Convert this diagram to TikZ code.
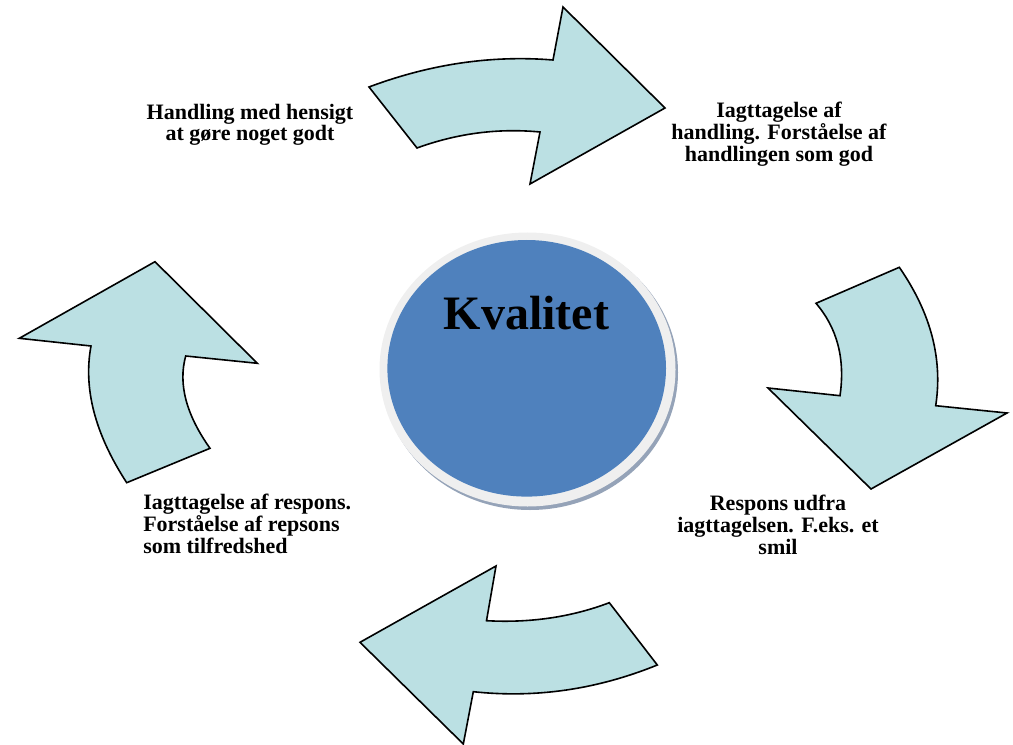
\documentclass[tikz,border=0pt]{standalone}
\usepackage{fontspec}
\setmainfont{Liberation Serif}
\begin{document}
\begin{tikzpicture}[x=0.75pt,y=-0.75pt,
  arrowshape/.style={draw=black, line width=1.2pt, line join=miter, fill=arrowfill},
  lbl/.style={font=\fontsize{16.5}{16.5}\selectfont\bfseries, inner sep=0pt, align=center, anchor=north},
  lblleft/.style={lbl, align=left, anchor=north west}]
\definecolor{arrowfill}{HTML}{BBE0E3}
\definecolor{blueball}{HTML}{4F81BD}
\definecolor{ringc}{HTML}{EFEFEF}
\definecolor{shadowc}{HTML}{95A3B8}
\useasboundingbox (0,0) rectangle (1013,745);

% top arrow
\filldraw[arrowshape] (369,87) .. controls (430.3,64) and (491.7,55) .. (553,60) -- (563,7) -- (665,108) -- (530,184) -- (540,132)
  .. controls (498.3,128) and (457.3,133.3) .. (417,148) -- cycle;
% right arrow
\filldraw[arrowshape] (899.3,267.3) .. controls (930.8,312.8) and (942.9,358.9) .. (935.7,405.7) -- (1007,413) -- (871,489) -- (768,388) -- (840,395.7)
  .. controls (845.3,358.9) and (837.3,328.1) .. (816,303.3) -- cycle;
% bottom arrow
\filldraw[arrowshape] (609.3,602.7) -- (657.3,665) .. controls (596.9,689.5) and (535.6,698.4) .. (473.3,691.7) -- (463.3,744) -- (360,642.3) -- (496,566) -- (486.5,620.7)
  .. controls (530.4,623.1) and (571.3,617.1) .. cycle;
% left arrow
\filldraw[arrowshape] (126.7,482.7) -- (210,448.3) .. controls (186.1,414.6) and (178,383.9) .. (185.7,356) -- (257.3,363.3) -- (155,261.7) -- (19.3,338.3) -- (91,346)
  .. controls (83.1,388.4) and (95,434) .. cycle;

% centre ball
\fill[shadowc] (530,372.5) ellipse [x radius=148, y radius=137.5];
\fill[ringc] (527.5,369.5) ellipse [x radius=148, y radius=137];
\fill[blueball] (526.7,368.3) ellipse [x radius=139.3, y radius=128.3];
\node[font=\fontsize{36}{36}\selectfont\bfseries, inner sep=0pt, anchor=base] (kval) at (526.5,329.3) {Kvalitet};

% labels
\node[lbl, font=\fontsize{16.5}{15.5}\selectfont\bfseries] (l1) at (250,104) {Handling med hensigt\\at gøre noget godt};
\node[lbl] (l2) at (779,102) {Iagttagelse af\\handling. Forståelse af\\handlingen som god};
\node[lblleft] (l3) at (143,494) {Iagttagelse af respons.\\Forståelse af repsons\\som tilfredshed};
\node[lbl] (l4) at (778,495) {Respons udfra\\iagttagelsen. F.eks. et\\smil};
\end{tikzpicture}
\end{document}
